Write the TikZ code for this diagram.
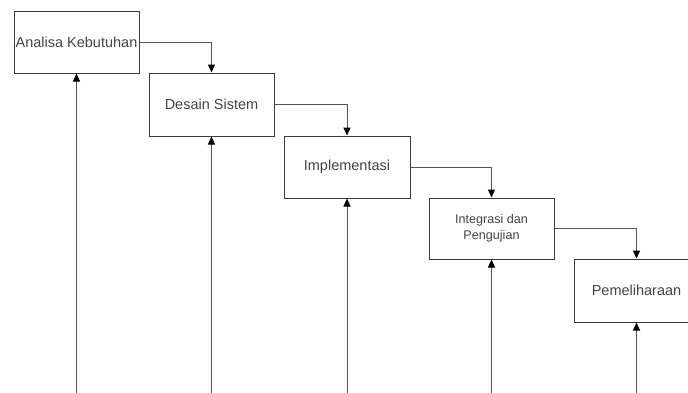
\documentclass[tikz,border=0pt]{standalone}
\usepackage{fontspec}
\setmainfont{Liberation Sans}
\usetikzlibrary{arrows.meta}
\definecolor{boxline}{HTML}{3A3A3A}
\definecolor{conn}{HTML}{555555}
\definecolor{txt}{HTML}{444444}
\tikzset{
  stage/.style={draw=boxline, line width=1pt, fill=white, minimum width=125pt, minimum height=62pt, inner sep=0pt, text=txt, font=\fontsize{14.5}{17}\selectfont, align=center},
  smallstage/.style={stage, font=\fontsize{12.6}{15.6}\selectfont},
  conn/.style={draw=conn, line width=1pt, -{Triangle[length=8pt,width=7pt,fill=black,color=black]}}
}
\begin{document}
\begin{tikzpicture}[x=1pt,y=-1pt]
\useasboundingbox (0,0) rectangle (688,392);
\fill[white] (0,0) rectangle (688,392);
\node[stage] (b1) at (76.5,42) {Analisa Kebutuhan};
\node[stage, minimum height=63pt] (b2) at (211.5,104.5) {Desain Sistem};
\node[stage, minimum width=126pt] (b3) at (347,167) {Implementasi};
\node[smallstage, minimum height=61pt] (b4) at (491.5,228.5) {Integrasi dan\\Pengujian};
\node[stage, minimum height=63pt] (b5) at (636.5,290.5) {Pemeliharaan};
\draw[conn] (b1.east) -| (b2.north);
\draw[conn] (b2.east) -| (b3.north);
\draw[conn] (b3.east) -| (b4.north);
\draw[conn] (b4.east) -| (b5.north);
\foreach \b in {b1,b2,b3,b4,b5}{
  \coordinate (c\b) at (\b.south |- 0,393);
  \draw[conn] (c\b) -- (\b.south);
}
\end{tikzpicture}
\end{document}
